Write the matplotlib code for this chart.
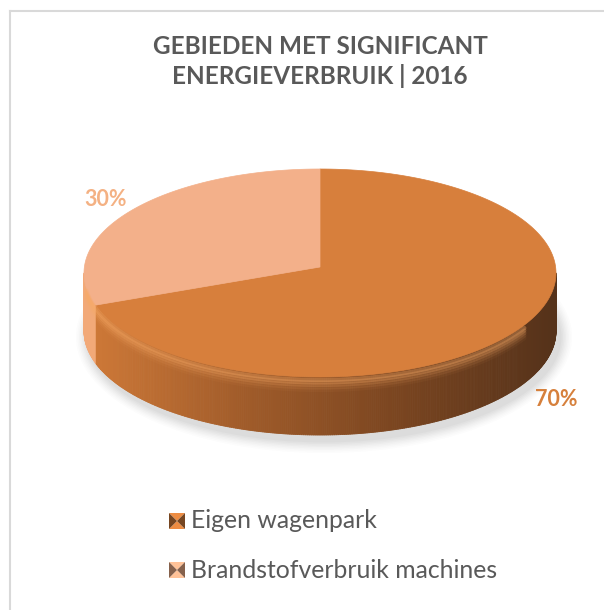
import numpy as np
import matplotlib.pyplot as plt
from matplotlib.patches import Polygon, Ellipse
from matplotlib.collections import PolyCollection
import matplotlib.colors as mcolors

plt.rcParams['font.family'] = ['Lato', 'DejaVu Sans']

title = 'GEBIEDEN MET SIGNIFICANT\nENERGIEVERBRUIK | 2016'
categories = ['Eigen wagenpark', 'Brandstofverbruik machines']
values = [70, 30]
pct_labels = ['70%', '30%']
top_colors = ['#D77F3C', '#F3B08A']
label_colors = ['#D6803C', '#F4B183']
grey = '#595959'

W, H = 604, 610
fig = plt.figure(figsize=(W / 100, H / 100), dpi=100)
ax = fig.add_axes([0, 0, 1, 1])
ax.set_xlim(0, W)
ax.set_ylim(H, 0)
ax.axis('off')

# chart border (top and left visible)
ax.plot([10, W], [11, 11], color='#D9D9D9', lw=1.5)
ax.plot([10, 10], [11, H], color='#D9D9D9', lw=1.5)

ax.text(320, 61, title, ha='center', va='center', fontsize=17.5,
        fontweight='bold', color=grey, linespacing=1.3)

# pie geometry (pixel units)
cx, cy = 320, 273
a, b = 236, 104
depth = 58


def ell(t):
    return cx + a * np.cos(t), cy - b * np.sin(t)


# soft shadow
for i, al in enumerate(np.linspace(0.02, 0.05, 8)):
    ax.add_patch(Ellipse((cx + 4, cy + depth + 6), 2 * a + 24 - 3 * i,
                         2 * b + 24 - 3 * i, color='#7F7F7F', alpha=al, lw=0))

# slice angles: first slice clockwise from 12 o'clock
fracs = np.array(values) / np.sum(values)
starts = 90 - 360 * np.concatenate([[0], np.cumsum(fracs)[:-1]])
ends = starts - 360 * fracs

# side of the disc (front half, 180..360 deg)
side_dark = mcolors.LinearSegmentedColormap.from_list(
    's', ['#D07A38', '#A15C2A', '#7A4520', '#55321A'])
side_light = mcolors.LinearSegmentedColormap.from_list(
    'l', ['#F2A978', '#E09A6C'])
ts = np.radians(np.linspace(180, 360, 361))
polys, cols = [], []
for t0, t1 in zip(ts[:-1], ts[1:]):
    x0, y0 = ell(t0)
    x1, y1 = ell(t1)
    polys.append([(x0, y0), (x1, y1), (x1, y1 + depth), (x0, y0 + depth)])
    deg = np.degrees(t0) % 360
    # which slice owns this angle
    in_light = (deg - ends[1]) % 360 <= (starts[1] - ends[1])
    u = (x0 - (cx - a)) / (2 * a)
    cols.append(side_light(u) if in_light else side_dark(u))
ax.add_collection(PolyCollection(polys, facecolors=cols, edgecolors=cols, lw=0.6))

# bevel highlight near top of side
for k, al in enumerate([0.35, 0.28, 0.18, 0.1, 0.05]):
    tt = np.radians(np.linspace(188, 330, 200))
    xs, ys = ell(tt)
    ax.plot(xs, ys + 3 + 2.5 * k, color='#F8AA66', alpha=al, lw=3,
            solid_capstyle='round')

# top face
for s, e, c in zip(starts, ends, top_colors):
    tt = np.radians(np.linspace(s, e, 200))
    xs, ys = ell(tt)
    pts = np.column_stack([np.r_[cx, xs], np.r_[cy - 6, ys]])
    ax.add_patch(Polygon(pts, closed=True, fc=c, ec=c, lw=0.5))

# percentage labels
ax.text(556, 399, pct_labels[0], ha='center', va='center', fontsize=15.5,
        fontweight='bold', color=label_colors[0])
ax.text(106, 199, pct_labels[1], ha='center', va='center', fontsize=15.5,
        fontweight='bold', color=label_colors[1])

# legend
leg_y = [521, 570]
for yy, c, name in zip(leg_y, top_colors, categories):
    x0, x1, y0, y1 = 169, 185, yy - 8, yy + 8
    xm, ym = (x0 + x1) / 2, (y0 + y1) / 2
    base = np.array(mcolors.to_rgb(c))
    dark = base * 0.55
    light = np.clip(base * 1.1, 0, 1)
    ax.add_patch(Polygon([(x0, y0), (x1, y0), (xm, ym)], fc=light, lw=0))
    ax.add_patch(Polygon([(x0, y1), (x1, y1), (xm, ym)], fc=light, lw=0))
    ax.add_patch(Polygon([(x0, y0), (x0, y1), (xm, ym)], fc=dark, lw=0))
    ax.add_patch(Polygon([(x1, y0), (x1, y1), (xm, ym)], fc=dark, lw=0))
    ax.text(191, yy, name, ha='left', va='center', fontsize=17.8, color=grey)

fig.savefig('out.png', dpi=100)
